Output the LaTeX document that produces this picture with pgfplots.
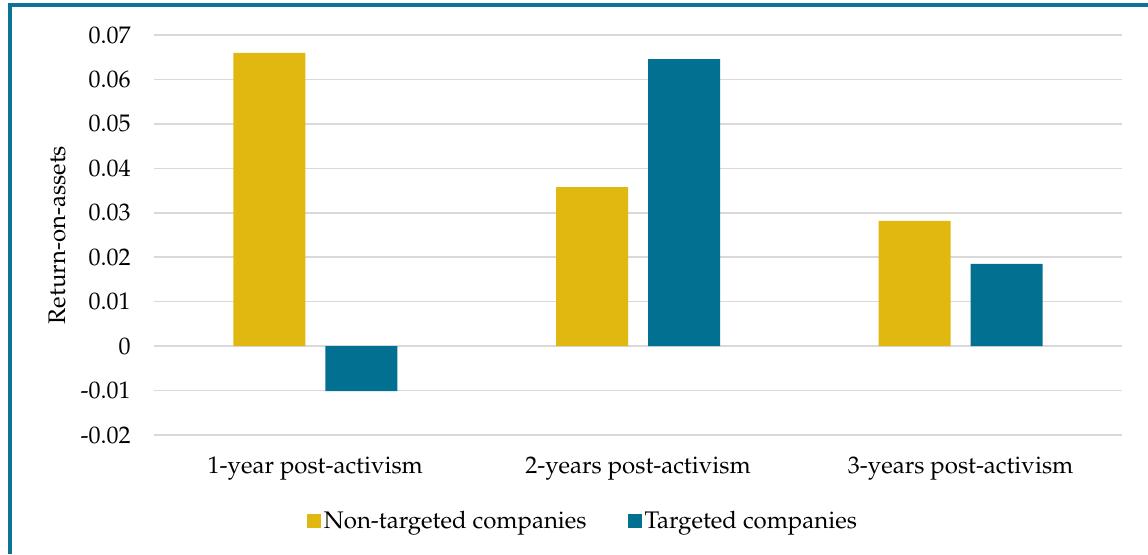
\documentclass[border=0pt]{standalone}
\usepackage[T1]{fontenc}
\usepackage{mathpazo}
\usepackage{pgfplots}
\pgfplotsset{compat=1.18}
\definecolor{cyel}{RGB}{225,184,16}
\definecolor{cteal}{RGB}{2,112,145}
\definecolor{cframe}{RGB}{10,115,150}
\definecolor{cgrid}{RGB}{217,217,217}
\begin{document}
\begin{tikzpicture}[x=0.75pt,y=0.75pt]
\useasboundingbox (0,0) rectangle (1148,554);
\fill[white] (0,0) rectangle (1148,554);
\draw[cframe,line width=3pt] (10,0) -- (10,549) -- (1148,549);
\begin{axis}[
  at={(115.5pt,89.25pt)}, anchor=south west,
  scale only axis, width=726pt, height=300pt,
  xmin=-0.5, xmax=2.5, ymin=-0.02, ymax=0.07,
  axis line style={draw=none},
  xtick={0,1,2},
  xticklabels={1-year post-activism, 2-years post-activism, 3-years post-activism},
  ytick={-0.02,-0.01,0,0.01,0.02,0.03,0.04,0.05,0.06,0.07},
  yticklabels={-0.02,-0.01,0,0.01,0.02,0.03,0.04,0.05,0.06,0.07},
  scaled y ticks=false,
  major tick length=0pt,
  ymajorgrids, grid style={cgrid,line width=1.2pt},
  tick label style={font=\fontsize{18}{21}\selectfont},
  yticklabel style={xshift=-14pt},
  xticklabel style={yshift=-13pt},
  ylabel={Return-on-assets},
  ylabel style={font=\fontsize{18}{21}\selectfont, at={(axis description cs:-0.1002,0.5)}, anchor=center},
  ybar, bar width=54pt,
  legend style={at={(0.4437,-0.2153)}, anchor=center, draw=none, fill=none,
    legend columns=2, font=\fontsize{18}{21}\selectfont,
    /tikz/every even column/.append style={column sep=29pt}},
  legend image code/.code={\fill[#1] (0pt,-5.25pt) rectangle (10.5pt,5.25pt);},
]
\addplot[fill=cyel, draw=none, bar shift=-34.5pt] coordinates {(0,0.066) (1,0.0358) (2,0.0282)};
\addlegendentry{Non-targeted companies}
\addplot[fill=cteal, draw=none, bar shift=34.5pt] coordinates {(0,-0.0101) (1,0.0646) (2,0.0185)};
\addlegendentry{Targeted companies}
\end{axis}
\end{tikzpicture}
\end{document}
